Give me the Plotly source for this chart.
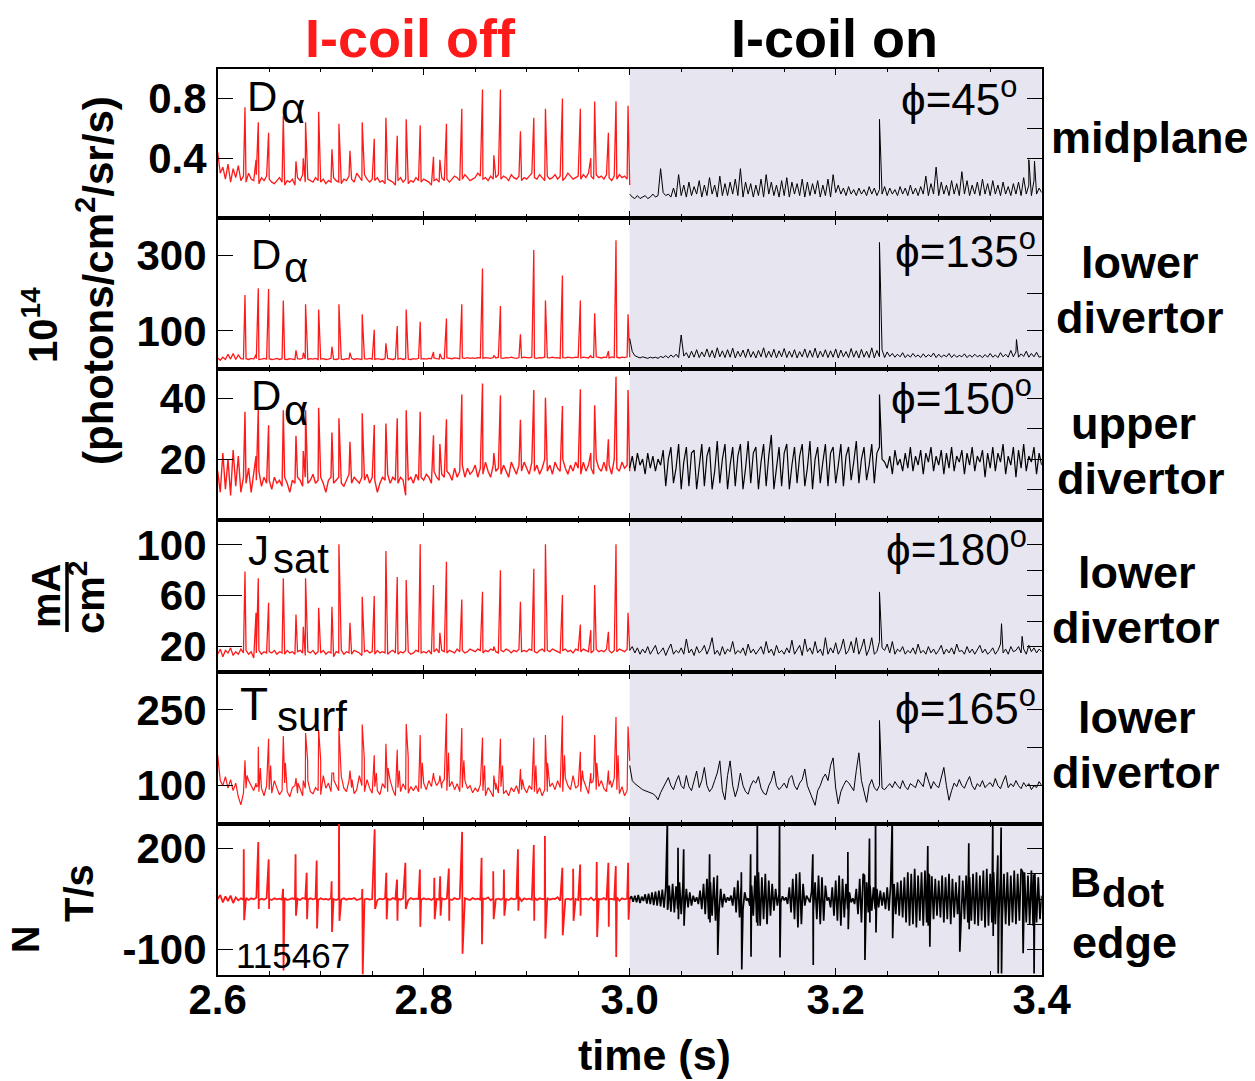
import numpy as np
import plotly.graph_objects as go

# the page body has an 8px margin: the figure starts at (8, 8) inside the 1255x1081 window
OX, OY = 8, 8
W, H = 1255 - OX, 1081 - OY
T_START, T_SWITCH, T_END = 2.6, 3.0, 3.4
RED = "#ff1a1a"
SHADE = "#e7e5f0"
SANS = "Liberation Sans"

# ---------------- data ----------------
# ELM event times (s) during the I-coil-off phase
elm_t = [2.6265, 2.6372, 2.6394, 2.6494, 2.6637, 2.6760, 2.6831, 2.6853, 2.6980, 2.7109,
         2.7177, 2.7284, 2.7403, 2.7520, 2.7633, 2.7743, 2.7830, 2.7966, 2.8095, 2.8157,
         2.8221, 2.8370, 2.8571, 2.8681, 2.8745, 2.8939, 2.9069, 2.9182, 2.9347, 2.9521,
         2.9622, 2.9660, 2.9793, 2.9867, 2.9984]

# panel 1: D-alpha midplane (10^14 ph/cm2/sr/s)
p1_peak = [0.74, 0.39, 0.64, 0.57, 0.68, 0.38, 0.40, 0.64, 0.71, 0.46, 0.63, 0.45, 0.64, 0.53, 0.67,
           0.55, 0.66, 0.62, 0.41, 0.39, 0.63, 0.73, 0.86, 0.42, 0.86, 0.58, 0.67, 0.73, 0.80, 0.73,
           0.40, 0.78, 0.57, 0.78, 0.75]
p1_off_c = [44, 30, 34, 26, 36, 24, 33, 27, 35, 25, 28, 24, 30, 26, 25, 29, 23, 27, 25, 28,
            26, 24, 23, 25, 27, 24, 22, 25, 24, 26, 22, 27, 25, 29, 24, 26, 25, 24, 27, 25,
            24, 26, 23, 25, 24, 27, 25, 24, 23, 26, 25, 28, 26, 24, 30, 27, 25, 29, 26, 24,
            26, 25, 27, 24, 25, 23, 26, 25, 24, 22, 25, 27, 24, 26, 23, 25, 24, 27, 25, 24,
            26, 25, 24, 22, 25, 26, 24, 27, 25, 26, 24, 26, 28, 27, 25, 26, 29, 27, 25, 26,
            27, 30, 28, 26, 27, 25, 28, 26, 27, 29, 26, 28, 27, 25, 29, 27, 26, 28, 25, 27,
            26, 28, 30, 27, 26, 29, 27, 25, 28, 26, 27, 29, 26, 28, 25, 27, 30, 28, 26, 27,
            28, 26, 29, 27, 30, 28, 26, 29, 27, 28, 26, 29, 27, 25, 28, 26, 29, 27, 28, 26, 22]
p1_on_c = [16, 14, 13, 15, 13, 14, 15, 13, 14, 16, 14, 15, 33, 17, 15, 16, 14, 20, 14, 29,
           15, 22, 14, 24, 15, 21, 16, 25, 14, 22, 15, 27, 16, 22, 14, 28, 15, 23, 15, 24,
           16, 26, 15, 33, 14, 24, 16, 23, 14, 22, 15, 26, 14, 29, 16, 24, 15, 22, 14, 25,
           15, 27, 14, 24, 16, 23, 15, 26, 14, 24, 15, 23, 16, 25, 14, 22, 15, 26, 14, 29,
           17, 22, 16, 20, 15, 21, 16, 19, 15, 20, 16, 19, 15, 21, 16, 20, 15, 19, 16, 21,
           15, 20, 16, 19, 15, 21, 16, 20, 15, 22, 16, 20, 15, 21, 16, 28, 15, 23, 16, 34,
           15, 24, 16, 22, 15, 25, 16, 23, 15, 31, 16, 25, 15, 22, 16, 24, 15, 26, 16, 23,
           15, 25, 16, 22, 15, 24, 16, 21, 15, 23, 16, 24, 15, 27, 16, 22, 15, 25, 16, 20, 17]
p1_on_t = [3.2425, 3.3875, 3.3930]
p1_on_peak = [0.66, 0.39, 0.38]

# panel 2: D-alpha lower divertor
p2_peak = [195, 37, 213, 211, 181, 48, 42, 171, 157, 58, 171, 42, 144, 103, 67, 113, 157, 124, 44, 39,
           133, 171, 266, 35, 166, 91, 315, 181, 247, 181, 35, 147, 46, 341, 144]
p2_off = [28, 22, 30, 24, 38, 25, 40, 24, 36, 26, 25, 26, 24, 27, 25, 26, 24, 25, 27, 25,
          26, 24, 25, 27, 24, 26, 25, 24, 26, 25, 24, 26, 25, 27, 25, 24, 26, 25, 27, 24,
          25, 26, 24, 25, 27, 25, 24, 26, 25, 24, 26, 25, 27, 24, 26, 25, 24, 26, 25, 27,
          25, 24, 26, 25, 24, 26, 27, 25, 24, 26, 25, 27, 24, 26, 25, 24, 26, 25, 27, 25,
          26, 25, 27, 26, 28, 26, 25, 27, 26, 28, 27, 26, 28, 27, 26, 28, 27, 29, 27, 28,
          27, 29, 28, 27, 29, 28, 27, 29, 28, 30, 28, 27, 29, 28, 30, 28, 27, 29, 28, 30,
          29, 28, 30, 28, 27, 29, 28, 30, 29, 28, 30, 28, 29, 27, 29, 28, 30, 29, 28, 30,
          29, 28, 30, 29, 28, 30, 29, 31, 29, 28, 30, 29, 28, 31, 29, 30, 28, 30, 29, 31, 30]
p2_on = [80, 45, 34, 30, 28, 31, 29, 27, 30, 28, 30, 27, 32, 29, 34, 28, 36, 30, 38, 29,
         89, 33, 42, 28, 46, 30, 50, 29, 44, 31, 52, 30, 48, 28, 55, 31, 47, 29, 50, 30,
         54, 28, 46, 31, 49, 29, 52, 30, 45, 28, 48, 31, 55, 29, 46, 30, 51, 28, 47, 31,
         53, 29, 46, 30, 50, 28, 45, 31, 52, 29, 48, 30, 54, 28, 46, 31, 50, 29, 47, 30,
         52, 28, 49, 31, 45, 29, 53, 30, 47, 28, 51, 30, 46, 29, 55, 28, 48, 31, 50, 29,
         44, 32, 40, 30, 38, 31, 42, 29, 37, 30, 40, 31, 36, 29, 39, 30, 37, 31, 41, 29,
         38, 30, 36, 31, 40, 29, 37, 30, 35, 31, 39, 29, 36, 30, 38, 31, 35, 29, 37, 30,
         40, 30, 36, 29, 42, 31, 38, 30, 48, 31, 44, 30, 39, 32, 46, 30, 40, 31, 43, 30, 32]
p2_on_t = [3.2425, 3.3755]
p2_on_peak = [335, 77]

# panel 3: D-alpha upper divertor
p3_peak = [35.7, 21, 36.7, 31.2, 36.2, 27.7, 22.7, 36.2, 37, 28.8, 33.5, 25.7, 35.2, 31.3, 31.8,
           33.5, 36.2, 35.7, 27.9, 25, 33.2, 41.4, 45, 22, 41.1, 33, 42.9, 40.3, 37.6, 43.1,
           22, 37.8, 26.6, 47.3, 42.9]
p3_off = [16, 9, 22, 10, 20, 8, 23, 11, 21, 9, 14, 12, 17, 9, 15, 13, 16, 11, 14, 12,
          13, 10, 14, 12, 13, 11, 14, 12, 9, 13, 12, 14, 13, 11, 14, 12, 13, 15, 12, 13,
          14, 12, 9, 13, 14, 12, 13, 14, 12, 11, 13, 15, 12, 14, 13, 12, 14, 13, 15, 12,
          14, 13, 9, 12, 14, 13, 15, 12, 14, 13, 12, 14, 13, 8, 13, 14, 12, 15, 13, 14,
          13, 15, 14, 12, 16, 14, 13, 15, 14, 16, 15, 13, 17, 14, 16, 18, 14, 17, 15, 16,
          18, 14, 17, 15, 19, 16, 14, 18, 16, 17, 15, 18, 16, 14, 19, 17, 15, 18, 16, 19,
          17, 15, 19, 16, 18, 15, 17, 20, 16, 18, 15, 19, 17, 16, 20, 17, 15, 18, 16, 19,
          17, 15, 19, 16, 18, 17, 15, 20, 17, 16, 19, 16, 18, 15, 20, 17, 16, 19, 17, 18, 16]
p3_on = [17, 21, 16, 22, 18, 20, 15, 22, 17, 21, 16, 20, 18, 23, 11, 20, 24, 12, 17, 25,
         10, 19, 24, 11, 22, 23, 10, 18, 25, 11, 21, 24, 10, 16, 26, 12, 20, 25, 10, 18,
         24, 11, 21, 25, 10, 17, 26, 12, 22, 24, 10, 19, 25, 11, 21, 28, 10, 17, 24, 11,
         22, 25, 10, 18, 24, 12, 21, 25, 11, 17, 26, 10, 20, 24, 12, 19, 25, 11, 22, 24,
         12, 18, 25, 11, 21, 24, 13, 19, 26, 12, 20, 24, 13, 18, 25, 12, 22, 24, 20, 19,
         17, 21, 15, 23, 18, 20, 16, 22, 17, 24, 16, 21, 18, 23, 15, 22, 19, 24, 16, 21,
         18, 23, 15, 22, 17, 24, 16, 21, 19, 23, 15, 22, 18, 24, 16, 21, 19, 23, 14, 22,
         17, 24, 16, 22, 19, 25, 15, 21, 18, 24, 14, 23, 17, 25, 16, 21, 19, 24, 15, 22, 18]
p3_on_t = [3.2425]
p3_on_peak = [41.4]

# panel 4: J_sat lower divertor (mA/cm2)
p4_peak = [79, 46.6, 73.7, 54.5, 73.7, 45.3, 35.5, 73.7, 50.5, 51.3, 100.5, 38.7, 59.2, 59.7, 95.3,
           74.7, 72.4, 100.5, 68.4, 30.8, 86.8, 57.1, 63.2, 20, 80, 55.3, 81.3, 100.5, 60.5, 37.4,
           32.9, 68.4, 31.6, 100.5, 46.6]
p4_off = [14, 18, 12, 17, 15, 19, 13, 16, 14, 18, 15, 17, 14, 16, 11, 15, 17, 14, 16, 15,
          16, 15, 17, 14, 16, 15, 14, 17, 15, 16, 14, 16, 17, 15, 13, 16, 15, 17, 14, 16,
          15, 17, 14, 16, 15, 12, 16, 15, 17, 14, 16, 15, 14, 17, 16, 15, 13, 16, 17, 15,
          16, 14, 17, 15, 16, 15, 14, 16, 17, 15, 14, 16, 15, 17, 16, 14, 15, 17, 16, 15,
          16, 15, 17, 14, 16, 18, 15, 17, 16, 15, 17, 16, 15, 18, 16, 17, 15, 16, 18, 17,
          16, 18, 17, 15, 17, 16, 18, 17, 16, 15, 17, 16, 18, 17, 15, 17, 16, 18, 16, 17,
          16, 18, 17, 16, 15, 17, 18, 16, 17, 16, 18, 17, 16, 15, 17, 18, 16, 17, 15, 18,
          17, 16, 18, 17, 16, 15, 17, 18, 16, 17, 16, 18, 17, 15, 17, 16, 18, 17, 16, 18, 17]
p4_on = [17, 20, 15, 19, 14, 18, 15, 20, 14, 17, 21, 14, 16, 19, 13, 18, 22, 14, 17, 15,
         19, 14, 26, 15, 18, 13, 20, 15, 17, 21, 14, 19, 27, 14, 17, 13, 20, 14, 18, 16,
         24, 14, 17, 15, 19, 13, 22, 15, 18, 14, 17, 20, 14, 24, 15, 18, 13, 21, 15, 17,
         14, 19, 15, 25, 14, 18, 21, 13, 26, 16, 19, 14, 24, 15, 18, 13, 27, 14, 19, 15,
         23, 14, 18, 26, 14, 17, 24, 15, 27, 14, 19, 26, 13, 18, 27, 14, 16, 24, 19, 17,
         22, 15, 24, 14, 18, 16, 20, 14, 17, 15, 19, 14, 22, 15, 17, 14, 20, 15, 18, 14,
         17, 21, 14, 18, 15, 19, 14, 22, 16, 17, 14, 20, 15, 18, 14, 17, 21, 15, 18, 14,
         16, 19, 14, 17, 22, 15, 18, 14, 20, 16, 17, 20, 15, 18, 14, 21, 16, 19, 15, 18, 16]
p4_on_t = [3.2425, 3.3610, 3.3810]
p4_on_peak = [63, 38, 28]

# panel 5: T_surf lower divertor
p5_peak = [150, 105, 177, 193, 198, 115, 110, 204, 211, 125, 214, 130, 221, 160, 183, 171, 222, 200,
           125, 120, 243, 214, 195, 120, 193, 133, 195, 200, 239, 167, 125, 200, 130, 236, 217]
p5_tail = [120, 100, 135, 140, 145, 105, 100, 150, 150, 110, 150, 112, 155, 125, 135, 130, 155, 145,
           108, 105, 165, 150, 140, 105, 140, 112, 140, 145, 160, 130, 108, 145, 110, 160, 150]
p5_off = [160, 110, 100, 118, 95, 112, 90, 105, 78, 62, 85, 95, 110, 100, 90, 98, 88, 95, 80, 100,
          92, 85, 110, 95, 82, 90, 105, 88, 78, 96, 100, 85, 92, 80, 95, 110, 88, 84, 96, 90,
          82, 120, 95, 105, 88, 125, 100, 90, 118, 95, 88, 110, 96, 84, 92, 120, 100, 88, 112, 95,
          85, 98, 90, 82, 104, 95, 88, 110, 92, 80, 96, 88, 104, 92, 85, 98, 90, 100, 88, 94,
          105, 92, 110, 98, 115, 100, 108, 95, 112, 90, 98, 108, 92, 104, 88, 96, 110, 94, 100, 86,
          95, 88, 102, 90, 80, 96, 88, 78, 92, 85, 98, 84, 90, 80, 96, 88, 100, 84, 92, 95,
          86, 100, 92, 88, 84, 96, 80, 92, 88, 98, 105, 92, 110, 96, 88, 115, 100, 92, 120, 95,
          100, 88, 112, 96, 84, 105, 118, 92, 98, 110, 94, 88, 102, 96, 115, 92, 84, 98, 80, 90, 150]
p5_on = [140, 110, 104, 100, 96, 92, 90, 88, 86, 84, 80, 72, 86, 95, 105, 116, 100, 92, 108, 120,
         100, 94, 120, 98, 90, 112, 129, 96, 110, 136, 100, 88, 95, 110, 125, 149, 90, 72, 120, 149,
         100, 78, 95, 125, 100, 88, 83, 100, 110, 105, 118, 95, 85, 82, 100, 110, 129, 100, 92, 98,
         105, 95, 115, 120, 100, 92, 105, 112, 133, 100, 88, 75, 61, 90, 100, 115, 123, 110, 140, 155,
         95, 64, 88, 100, 110, 106, 98, 90, 130, 165, 110, 85, 67, 100, 112, 96, 90, 100, 95, 92,
         98, 104, 96, 108, 100, 94, 110, 98, 92, 104, 100, 96, 112, 105, 98, 126, 110, 94, 108, 100,
         96, 118, 136, 100, 71, 90, 105, 98, 112, 100, 95, 108, 118, 100, 92, 104, 98, 110, 96, 102,
         106, 98, 114, 100, 94, 108, 120, 96, 104, 98, 110, 100, 94, 106, 98, 104, 92, 100, 96, 108, 100]
p5_on_t = [3.2425]
p5_on_peak = [229]

# panel 6: B-dot edge (T/s)
bd_t = [2.6253, 2.6394, 2.6495, 2.6635, 2.6756, 2.6864, 2.6961, 2.7106, 2.7178, 2.7404,
        2.7524, 2.7637, 2.7741, 2.7822, 2.7963, 2.8103, 2.8160, 2.8244, 2.8373, 2.8562,
        2.8675, 2.8779, 2.8915, 2.9069, 2.9177, 2.9346, 2.9451, 2.9519, 2.9680, 2.9793,
        2.9865, 2.9985]
bd_up = [198, 220, 168, 80, 183, 128, 165, 103, 290, 80, 258, 128, 108, 158, 138, 113, 118, 141,
         250, 173, 133, 138, 198, 211, 238, 143, 140, 153, 160, 158, 148, 158]
bd_dn = [-13, 20, 20, -163, 0, -10, -38, -48, -15, -175, 20, -10, -15, 20, -33, -10, 0, -15,
         -113, -85, -10, 0, 15, -15, -68, -58, -15, 0, -63, -33, -123, -12]
p6_off = [50, 62, 40, 58, 44, 60, 38, 55, 46, 52, 48, 53, 47, 52, 49, 54, 46, 51, 48, 53,
          50, 47, 52, 49, 51, 48, 53, 47, 50, 52, 49, 51, 47, 53, 50, 48, 52, 49, 51, 47,
          52, 49, 50, 48, 53, 50, 47, 51, 49, 52, 48, 51, 50, 53, 47, 50, 52, 49, 51, 48,
          50, 53, 47, 51, 49, 52, 50, 48, 53, 49, 51, 48, 52, 50, 47, 53, 49, 51, 50, 48,
          52, 49, 51, 47, 53, 50, 48, 52, 49, 51, 50, 47, 53, 49, 51, 48, 52, 50, 47, 53,
          49, 51, 48, 52, 50, 55, 46, 52, 49, 51, 48, 53, 50, 47, 52, 49, 51, 56, 44, 52,
          49, 51, 48, 54, 47, 52, 50, 49, 53, 48, 51, 50, 55, 45, 52, 49, 51, 48, 53, 50,
          47, 52, 49, 51, 48, 54, 46, 52, 50, 49, 53, 47, 51, 50, 48, 55, 45, 52, 49, 51, 50]
p6_on = [50, 58, 42, 60, 40, 62, 38, 57, 44, 64, 36, 66, 35, 70, 32, 72, 30, 75, 28, 78,
         24, 85, 18, 90, 12, 95, 10, 88, 20, 100, 5, 92, 15, 80, 25, 70, 30, 60, 42, 55,
         35, 75, 20, 95, 5, 110, -10, 100, 0, 115, -15, 95, 10, 80, 25, 65, 40, 55, 45, 60,
         30, 85, 10, 105, -5, 95, 20, 70, 45, 52, 30, 90, 0, 120, -20, 130, -30, 115, -10, 125,
         -25, 105, 0, 95, 15, 80, 30, 65, 40, 58, 46, 55, 35, 85, 10, 110, -10, 125, -35, 130,
         -25, 95, 30, 60, 48, 40, 75, 15, 100, -10, 120, -25, 115, -15, 90, 45, 55, 25, 85, 0,
         105, -15, 120, -30, 110, -5, 95, 20, 70, 40, 52, 35, 80, 5, 110, -20, 125, -10, 100, 10,
         90, 15, 85, 20, 80, 25, 75, 30, 70, 20, 85, 15, 90, 10, 95, 5, 100, 0, 105, -5,
         115, -20, 130, -30, 125, -25, 140, -35, 120, -15, 130, -30, 135, -20, 125, -25, 118, -10, 110, 0,
         105, -5, 120, -20, 115, -10, 125, -25, 110, -5, 100, 5, 95, 10, 105, -10, 120, -20, 115, -15,
         125, -25, 130, -30, 120, -15, 135, -35, 140, -30, 125, -20, 130, -25, 120, -10, 115, -15, 125, -25,
         130, -30, 120, -20, 135, -25, 125, -15, 140, -35, 130, -20, 120, -25, 135, -30, 125, -20, 115, -10, 60]
bd_on_t = [3.0366, 3.0469, 3.0524, 3.0776, 3.0851, 3.1084, 3.1174, 3.1239, 3.1455, 3.1778,
           3.2118, 3.2280, 3.2328, 3.2387, 3.2549, 3.2894, 3.2910, 3.3201, 3.3292, 3.3525,
           3.3574, 3.3606, 3.3816, 3.3922]
bd_on_up = [290, 203, 198, 183, 120, 130, 183, 290, 290, 183, 190, 120, 230, 290, 290, 208, 120, 120,
            216, 290, 180, 263, 130, 123]
bd_on_dn = [20, -10, -30, -20, -117, -160, -122, -30, -124, -147, -40, -132, -20, -50, -67, -30, -92,
            -107, -40, -60, -172, -172, -112, -172]

# axis ranges and ticks
y_ranges = [[0, 1.0], [0, 400], [0, 50], [0, 120], [25, 325], [-175, 275]]
y_left_ticks = [[0.8, 0.4], [300, 100], [40, 20], [100, 60, 20], [250, 100], [200, -100]]
y_left_text = [["0.8", "0.4"], ["300", "100"], ["40", "20"], ["100", "60", "20"], ["250", "100"],
               ["200", "-100"]]
y_right_ticks = [[0.8, 0.6, 0.4], [300, 200, 100], [40, 30, 20, 10], [100, 80, 60, 40, 20],
                 [250, 175, 100], [200, 125, 50, -25, -100]]
x_ticks = [2.6, 2.8, 3.0, 3.2, 3.4]
x_tick_text = ["2.6", "2.8", "3.0", "3.2", "3.4"]

diag_labels = [("D", "α"), ("D", "α"), ("D", "α"), ("J", "sat"), ("T", "surf"), None]
phi_labels = ["ϕ=45<sup>o</sup>", "ϕ=135<sup>o</sup>", "ϕ=150<sup>o</sup>", "ϕ=180<sup>o</sup>",
              "ϕ=165<sup>o</sup>", None]
loc_labels = [["midplane"], ["lower", "divertor"], ["upper", "divertor"], ["lower", "divertor"],
              ["lower", "divertor"], None]


# ---------------- build the series ----------------
def merge(tb, vb, extra):
    ts = list(tb)
    vs = list(vb)
    for tt, vv in extra:
        ts.extend(list(tt))
        vs.extend(list(vv))
    ts = np.array(ts, dtype=float)
    vs = np.array(vs, dtype=float)
    idx = np.argsort(ts, kind="stable")
    return ts[idx], vs[idx]


def tgrid(a, b, vals):
    return np.linspace(a, b, len(vals))


elm = np.array(elm_t)
series = []
series.append((merge(tgrid(T_START, T_SWITCH, p1_off_c), np.array(p1_off_c) / 100.0, [(elm_t, p1_peak)]),
               merge(tgrid(T_SWITCH, T_END, p1_on_c), np.array(p1_on_c) / 100.0, [(p1_on_t, p1_on_peak)])))
series.append((merge(tgrid(T_START, T_SWITCH, p2_off), p2_off, [(elm_t, p2_peak)]),
               merge(tgrid(T_SWITCH, T_END, p2_on), p2_on, [(p2_on_t, p2_on_peak)])))
series.append((merge(tgrid(T_START, T_SWITCH, p3_off), p3_off, [(elm_t, p3_peak)]),
               merge(tgrid(T_SWITCH, T_END, p3_on), p3_on, [(p3_on_t, p3_on_peak)])))
series.append((merge(tgrid(T_START, T_SWITCH, p4_off), p4_off, [(elm_t, p4_peak)]),
               merge(tgrid(T_SWITCH, T_END, p4_on), p4_on, [(p4_on_t, p4_on_peak)])))
series.append((merge(tgrid(T_START, T_SWITCH, p5_off), p5_off, [(elm_t, p5_peak), (elm + 0.002, p5_tail)]),
               merge(tgrid(T_SWITCH, T_END, p5_on), p5_on, [(p5_on_t, p5_on_peak)])))
series.append((merge(tgrid(T_START, T_SWITCH, p6_off), p6_off,
                     [(bd_t, bd_up), (np.array(bd_t) + 0.0004, bd_dn)]),
               merge(tgrid(T_SWITCH, T_END, p6_on), p6_on,
                     [(bd_on_t, bd_on_up), (np.array(bd_on_t) + 0.0004, bd_on_dn)])))

red_width = [1.3, 1.3, 1.4, 1.3, 1.2, 1.8]
blk_width = [1.0, 1.0, 1.2, 1.0, 1.0, 1.7]

# ---------------- figure (positions given in window pixels) ----------------
panel_px = [(68.5, 218), (218, 368.5), (368.5, 519.5), (519.5, 672), (672, 823.5), (823.5, 974.5)]


def fx(p):
    return (p - OX) / W


def fy(p):
    return 1 - (p - OY) / H


x_dom = [fx(217.7), fx(1041.7)]

fig = go.Figure()
layout = dict(width=W, height=H, margin=dict(l=0, r=0, t=0, b=0, autoexpand=False), paper_bgcolor="white",
              plot_bgcolor="rgba(0,0,0,0)", showlegend=False,
              font=dict(family=SANS, color="black"))

tickfont = dict(family=SANS, size=42, color="black", weight="bold")

for k in range(6):
    xs = "" if k == 0 else str(k + 1)
    (tr, vr), (tb, vb) = series[k]
    fig.add_trace(go.Scatter(x=tr, y=vr, mode="lines", line=dict(color=RED, width=red_width[k]),
                             xaxis="x" + xs, yaxis="y" + xs, hoverinfo="skip"))
    fig.add_trace(go.Scatter(x=tb, y=vb, mode="lines", line=dict(color="black", width=blk_width[k]),
                             xaxis="x" + xs, yaxis="y" + xs, hoverinfo="skip"))
    fig.add_trace(go.Scatter(x=[None], y=[None], mode="lines", xaxis="x" + xs, yaxis="y" + str(k + 7),
                             hoverinfo="skip"))
    top, bot = panel_px[k]
    ydom = [fy(bot), fy(top)]
    layout["xaxis" + xs] = dict(
        domain=x_dom, anchor="y" + xs, range=[T_START, T_END], showline=True, linewidth=1.5,
        linecolor="black", mirror="ticks", ticks="inside", ticklen=7, tickwidth=1.2, tickcolor="black",
        tickmode="array", tickvals=x_ticks, ticktext=x_tick_text, showgrid=False, zeroline=False,
        showticklabels=(k == 5), tickfont=tickfont, ticklabelstandoff=-13, automargin=False,
        minor=dict(tick0=T_START, dtick=0.05, ticks="inside", ticklen=4, tickwidth=1.0, tickcolor="black",
                   showgrid=False),
    )
    layout["yaxis" + xs] = dict(
        domain=ydom, anchor="x" + xs, range=y_ranges[k], showline=True, linewidth=1.5, linecolor="black",
        mirror=True, ticks="inside", ticklen=(25 if k == 3 else 16), tickwidth=1.2, tickcolor="black",
        tickmode="array", tickvals=y_left_ticks[k], ticktext=y_left_text[k], showgrid=False, zeroline=False,
        tickfont=tickfont, ticklabelstandoff=1, automargin=False,
    )
    layout["yaxis" + str(k + 7)] = dict(
        overlaying="y" + xs, anchor="x" + xs, side="right", range=y_ranges[k], ticks="inside", ticklen=15,
        tickwidth=1.2, tickcolor="black", tickmode="array", tickvals=y_right_ticks[k], showticklabels=False,
        showline=False, showgrid=False, zeroline=False, automargin=False,
    )

shapes = [dict(type="rect", xref="x", yref="paper", x0=T_SWITCH, x1=T_END, y0=fy(974.5), y1=fy(68.5),
               fillcolor=SHADE, line=dict(width=0), layer="below"),
          dict(type="line", xref="paper", yref="paper", x0=fx(67), x1=fx(67), y0=fy(562), y1=fy(632),
               line=dict(color="black", width=3.5))]
layout["shapes"] = shapes

ann = []


def add_text(text, x, y, size, bold=False, color="black", xanchor="center", yanchor="middle", angle=0,
             family=SANS):
    ann.append(dict(text=text, x=fx(x), y=fy(y), xref="paper", yref="paper", showarrow=False,
                    xanchor=xanchor, yanchor=yanchor, textangle=angle,
                    font=dict(family=family, size=size, color=color, weight=("bold" if bold else "normal"))))


add_text("I-coil off", 410, 38, 54, bold=True, color=RED)
add_text("I-coil on", 835, 38, 54, bold=True)

loc_pos = [[(1150, 137)], [(1140, 262), (1140, 317)], [(1133, 424), (1141, 479)],
           [(1137, 572), (1136, 627)], [(1137, 717), (1136, 772)]]
for k in range(5):
    for txt, (x, y) in zip(loc_labels[k], loc_pos[k]):
        add_text(txt, x, y, 45, bold=True)
add_text("B", 1068, 882, 43, bold=True, xanchor="left")
add_text("dot", 1100, 893, 40, bold=True, xanchor="left")
add_text("edge", 1124, 942, 45, bold=True)

main_pos = [(245, 96), (249, 255), (249, 395), (246, 550), (238, 704)]
main_size = [42, 42, 42, 42, 46]
sub_pos = [(279, 109), (282, 267), (282, 410), (271, 558), (275, 716)]
for k in range(5):
    m, s = diag_labels[k]
    add_text(m, main_pos[k][0], main_pos[k][1], main_size[k], xanchor="left")
    add_text(s, sub_pos[k][0], sub_pos[k][1], 42, xanchor="left")

phi_pos = [(1019, 97), (1038, 248), (1034, 396), (1029, 546), (1038, 705)]
for k in range(5):
    add_text(phi_labels[k], phi_pos[k][0], phi_pos[k][1], 44, xanchor="right")

add_text("115467", 234, 955, 35, xanchor="left")

add_text("10<sup>14</sup>", 40, 325, 40, bold=True, angle=-90)
add_text("(photons/cm<sup>2</sup>/sr/s)", 95, 281, 42, bold=True, angle=-90)
add_text("mA", 46, 596, 40, bold=True, angle=-90)
add_text("cm<sup>2</sup>", 87, 598, 40, bold=True, angle=-90)
add_text("T/s", 79, 893, 40, bold=True, angle=-90)
add_text("N", 26, 940, 38, bold=True, angle=-90)
add_text("time (s)", 654, 1055, 43, bold=True)

layout["annotations"] = ann
fig.update_layout(**layout)
fig.write_html("out.html")
